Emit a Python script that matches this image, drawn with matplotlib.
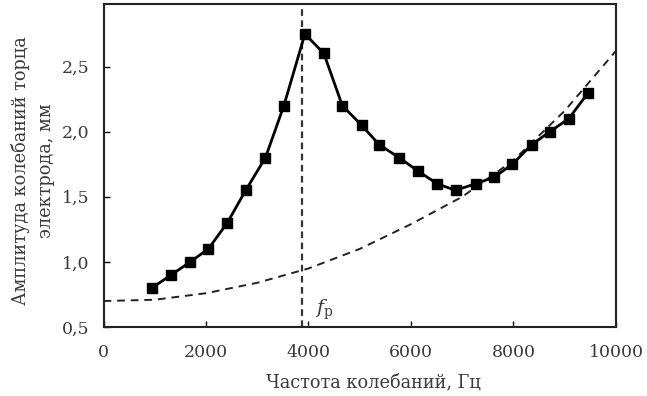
import matplotlib
matplotlib.use("Agg")
import matplotlib.pyplot as plt

# measured amplitude vs frequency
freq = [940, 1320, 1690, 2045, 2415, 2775, 3160, 3520, 3930, 4300, 4660, 5035,
        5380, 5770, 6130, 6510, 6870, 7260, 7620, 7980, 8355, 8710, 9080, 9460]
amp = [0.80, 0.90, 1.00, 1.10, 1.30, 1.55, 1.80, 2.20, 2.75, 2.60, 2.20, 2.05,
       1.90, 1.80, 1.70, 1.60, 1.55, 1.60, 1.65, 1.75, 1.90, 2.00, 2.10, 2.30]

# dashed background curve
bg_freq = [0, 1000, 2000, 3000, 4000, 5000, 6000, 7000, 8000, 9000, 10000]
bg_amp = [0.70, 0.71, 0.76, 0.84, 0.95, 1.10, 1.29, 1.50, 1.78, 2.16, 2.62]

f_res = 3880
yticks = [0.5, 1.0, 1.5, 2.0, 2.5]
ytick_labels = ["0,5", "1,0", "1,5", "2,0", "2,5"]
xticks = [0, 2000, 4000, 6000, 8000, 10000]

plt.rcParams['font.family'] = ['DejaVu Serif']
plt.rcParams['mathtext.fontset'] = 'custom'
plt.rcParams['mathtext.rm'] = 'DejaVu Serif'
plt.rcParams['mathtext.it'] = 'DejaVu Serif:italic'

txt = '#3a3a3a'
fig = plt.figure(figsize=(6.47, 3.96), dpi=100)
ax = fig.add_axes([0.16, 0.174, 0.792, 0.816])

ax.plot(bg_freq, bg_amp, '--', color='#222222', lw=1.4, dashes=(4, 3))
ax.axvline(f_res, color='#333333', lw=1.6, ls='--', dashes=(3, 2))
ax.plot(freq, amp, 's-', color='black', lw=2.0, markersize=7.5)

ax.text(f_res + 250, 0.6, r'$f_{\mathrm{р}}$', fontsize=14, color=txt)

ax.set_xlim(0, 10000)
ax.set_ylim(0.5, 2.98)
ax.set_xticks(xticks)
ax.set_yticks(yticks)
ax.set_yticklabels(ytick_labels)
ax.tick_params(direction='in', length=4, width=1, labelsize=12.5, colors='black',
               labelcolor=txt)
ax.tick_params(axis='x', pad=12)
ax.tick_params(axis='y', pad=10)
for s in ax.spines.values():
    s.set_linewidth(1.5)
    s.set_color('#222222')

ax.set_xlabel("Частота колебаний, Гц", fontsize=12.8, color=txt)
ax.xaxis.set_label_coords(0.527, -0.142)
ax.set_ylabel("Амплитуда колебаний торца\nэлектрода, мм", fontsize=12.8,
              color=txt, linespacing=1.5)
ax.yaxis.set_label_coords(-0.095, 0.483)

fig.savefig("out.png", dpi=100)
